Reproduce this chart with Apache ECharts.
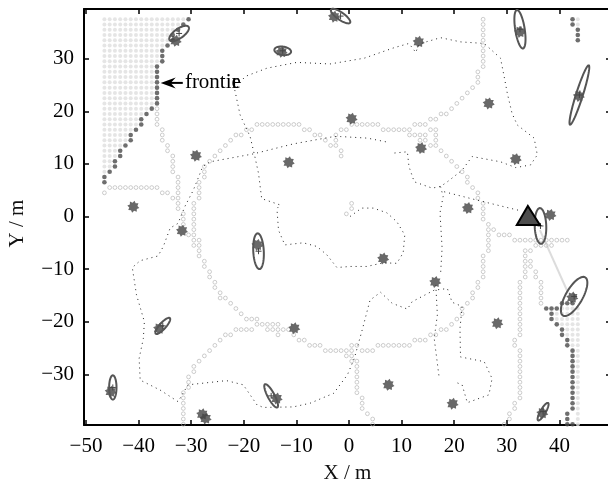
<!DOCTYPE html>
<html><head><meta charset="utf-8">
<style>html,body{margin:0;padding:0;background:#fff}#c{width:608px;height:483px}</style>
<script src="https://cdn.jsdelivr.net/npm/echarts@6/dist/echarts.min.js"></script>
</head><body><div id="c"></div>
<script>
const xTicks=[-50,-40,-30,-20,-10,0,10,20,30,40];
const yTicks=[-30,-20,-10,0,10,20,30];
const xName='X / m', yName='Y / m';

// landmarks
const landmarks=[[-32.95,33.4],[-29.1,11.56],[-41,1.86],[-12.8,31.3],[-11.46,10.3],[13.25,33.2],[0.5,18.6],[26.56,21.5],[13.7,13],[31.7,10.9],[22.6,1.6],[32.5,35.1],[43.7,22.9],[38.3,0.3],[-2.85,38],[-31.75,-2.7],[-17.4,-5.4],[-36.1,-21.3],[-10.4,-21.25],[-45.3,-33.3],[-13.75,-34.6],[-27.25,-38.4],[-27.9,-37.6],[6.5,-8],[16.4,-12.45],[28.2,-20.3],[7.5,-32],[19.7,-35.6],[42.45,-15.4],[36.75,-37.4]];
// uncertainty ellipses: cx, cy, semi-major, semi-minor, angle in degrees
const ellipses=[[-32.3,34.8,2.2,0.9,35],[-12.6,31.5,1.6,0.8,-8],[-1.6,38.1,2.2,0.7,-35],[32.5,35.6,3.7,0.9,99],[43.8,23.1,5.9,0.65,72.5],[36.4,-1.8,3.4,1.1,92],[-17.2,-6.6,3.4,1.0,93],[-35.4,-20.8,2.0,0.6,48],[-44.9,-32.5,2.3,0.7,90],[-14.8,-34.1,2.5,0.65,118],[42.8,-15.2,4.2,1.6,60],[36.9,-37.1,1.9,0.5,60]];
// frontier cells
const frontierTopX=[-30.5,-31.5,-32.5,-33.5,-33.5,-34.5,-35.5,-35.5,-35.5,-36.5,-36.5,-36.5,-36.5,-36.5,-36.5,-36.5,-36.5,-37.5,-38.5,-39.5,-39.5,-40.5,-41.5,-41.5,-42.5,-43.5,-43.5,-44.5,-44.5,-45.5,-46.5,-46.5];
const frontierTopY=[37.5,36.5,35.5,34.5,33.5,32.5,31.5,30.5,29.5,28.5,27.5,26.5,25.5,24.5,23.5,22.5,21.5,20.5,19.5,18.5,17.5,16.5,15.5,14.5,13.5,12.5,11.5,10.5,9.5,8.5,7.5,6.5];
const frontierOther=[[42.5,37.5],[42.5,36.5],[43.5,35.5],[43.5,34.5],[43.5,33.5],[40.5,-16.5],[41.5,-16.5],[42.5,-16.5],[37.5,-17.5],[38.5,-17.5],[39.5,-17.5],[38.5,-18.5],[38.5,-19.5],[39.5,-20.5],[40.5,-21.5],[40.5,-22.5],[41.5,-23.5],[41.5,-24.5],[42.5,-25.5],[42.5,-26.5],[42.5,-27.5],[42.5,-28.5],[42.5,-29.5],[42.5,-30.5],[42.5,-31.5],[42.5,-32.5],[42.5,-33.5],[42.5,-34.5],[42.5,-35.5],[42.5,-36.5],[41.5,-37.5],[41.5,-38.5],[41.5,-39.5],[42.5,-39.5]];
// unexplored cell rows: y, first x, last x
const unknownRows=[[37.5,-46.5,-31.5],[36.5,-46.5,-32.5],[35.5,-46.5,-33.5],[34.5,-46.5,-34.5],[33.5,-46.5,-34.5],[32.5,-46.5,-35.5],[31.5,-46.5,-36.5],[30.5,-46.5,-36.5],[29.5,-46.5,-36.5],[28.5,-46.5,-37.5],[27.5,-46.5,-37.5],[26.5,-46.5,-37.5],[25.5,-46.5,-37.5],[24.5,-46.5,-37.5],[23.5,-46.5,-37.5],[22.5,-46.5,-37.5],[21.5,-46.5,-37.5],[20.5,-46.5,-38.5],[19.5,-46.5,-39.5],[18.5,-46.5,-40.5],[17.5,-46.5,-40.5],[16.5,-46.5,-41.5],[15.5,-46.5,-42.5],[14.5,-46.5,-42.5],[13.5,-46.5,-43.5],[12.5,-46.5,-44.5],[11.5,-46.5,-44.5],[10.5,-46.5,-45.5],[9.5,-46.5,-45.5],[8.5,-46.5,-46.5],
[37.5,43.5,43.5],[36.5,43.5,43.5],[-17.5,40.5,43.5],[-18.5,39.5,43.5],[-19.5,39.5,43.5],[-20.5,40.5,43.5],[-21.5,41.5,43.5],[-22.5,41.5,43.5],[-23.5,42.5,43.5],[-24.5,42.5,43.5],[-25.5,43.5,43.5],[-26.5,43.5,43.5],[-27.5,43.5,43.5],[-28.5,43.5,43.5],[-29.5,43.5,43.5],[-30.5,43.5,43.5],[-31.5,43.5,43.5],[-32.5,43.5,43.5],[-33.5,43.5,43.5],[-34.5,43.5,43.5],[-35.5,43.5,43.5],[-36.5,43.5,43.5],[-37.5,43.5,43.5],[-38.5,43.5,43.5],[-39.5,43.5,43.5]];
// visited cells as rows: y, then x values
const visitedRows=[
[37.5,25.5],[36.5,25.5],[35.5,25.5],[34.5,25.5],[33.5,25.5],[32.5,25.5],[31.5,25.5],[30.5,25.5],[29.5,25.5],[28.5,25.5],
[27.5,24.5],[26.5,24.5],[25.5,24.5],[24.5,23.5],[23.5,22.5],[22.5,21.5],[21.5,20.5],
[20.5,-36.5,19.5],[19.5,-36.5,17.5,18.5],[18.5,-36.5,15.5,16.5],
[17.5,-36.5,-17.5,-16.5,-15.5,-14.5,-13.5,-12.5,-11.5,-10.5,-9.5,0.5,1.5,2.5,3.5,4.5,5.5,12.5,13.5,14.5],
[16.5,-35.5,-19.5,-18.5,-8.5,-7.5,-1.5,-0.5,6.5,7.5,8.5,9.5,10.5,11.5,15.5,16.5],
[15.5,-35.5,-21.5,-20.5,-6.5,-5.5,-2.5,11.5,12.5,13.5,14.5,16.5],
[14.5,-35.5,-22.5,-4.5,-2.5,13.5,14.5,16.5],
[13.5,-34.5,-23.5,-3.5,-2.5,15.5,16.5],
[12.5,-34.5,-24.5,-1.5,17.5],
[11.5,-33.5,-25.5,-1.5,18.5],
[10.5,-33.5,-26.5,19.5],
[9.5,-33.5,-27.5,20.5],
[8.5,-33.5,-27.5,21.5],
[7.5,-32.5,-27.5,22.5],
[6.5,-32.5,-28.5,22.5],
[5.5,-45.5,-44.5,-43.5,-42.5,-41.5,-40.5,-39.5,-38.5,-37.5,-36.5,-32.5,-28.5,23.5],
[4.5,-46.5,-35.5,-34.5,-32.5,-28.5,24.5],
[3.5,-33.5,-32.5,-28.5,24.5],
[2.5,-32.5,-29.5,0.5,25.5],
[1.5,-32.5,-29.5,0.5,25.5],
[0.5,-31.5,-29.5,-0.5,25.5],
[-0.5,-31.5,-29.5,25.5],
[-1.5,-31.5,-29.5,26.5],
[-2.5,-29.5,26.5,27.5],
[-3.5,-30.5,-29.5,26.5,28.5,29.5,30.5],
[-4.5,-29.5,-28.5,26.5,31.5,32.5,33.5,34.5,35.5,36.5,37.5,38.5,39.5,40.5,41.5],
[-5.5,-29.5,-28.5,26.5,35.5,36.5,37.5,38.5],
[-6.5,-28.5,26.5,33.5,34.5],
[-7.5,-28.5,25.5,33.5],
[-8.5,-27.5,25.5,33.5,34.5],
[-9.5,-27.5,25.5,33.5,34.5],
[-10.5,-26.5,25.5,33.5,35.5],
[-11.5,-26.5,25.5,33.5,35.5],
[-12.5,-25.5,24.5,32.5,36.5],
[-13.5,-25.5,24.5,32.5,36.5],
[-14.5,-24.5,23.5,32.5,36.5],
[-15.5,-24.5,-23.5,23.5,32.5,36.5],
[-16.5,-22.5,22.5,32.5,36.5],
[-17.5,-21.5,21.5,32.5],
[-18.5,-20.5,21.5,32.5],
[-19.5,-19.5,-18.5,-17.5,20.5,32.5],
[-20.5,-17.5,-16.5,-15.5,-14.5,-13.5,19.5,32.5],
[-21.5,-21.5,-20.5,-19.5,-18.5,-15.5,-14.5,-13.5,-12.5,-11.5,17.5,18.5,32.5],
[-22.5,-23.5,-22.5,-13.5,-10.5,15.5,16.5,32.5],
[-23.5,-24.5,-9.5,-8.5,12.5,13.5,14.5,31.5],
[-24.5,-25.5,-7.5,-6.5,-5.5,0.5,1.5,5.5,6.5,7.5,8.5,9.5,10.5,11.5,31.5],
[-25.5,-26.5,-4.5,-3.5,-2.5,-1.5,-0.5,0.5,2.5,3.5,4.5,32.5],
[-26.5,-27.5,-0.5,0.5,32.5],
[-27.5,-28.5,0.5,1.5,32.5],
[-28.5,-29.5,1.5,32.5],
[-29.5,-29.5,1.5,32.5],
[-30.5,-30.5,1.5,32.5],
[-31.5,-30.5,1.5,32.5],
[-32.5,-30.5,1.5,32.5],
[-33.5,-31.5,1.5,32.5],
[-34.5,-31.5,2.5,32.5],
[-35.5,-31.5,2.5,31.5],
[-36.5,-31.5,2.5,31.5],
[-37.5,-31.5,3.5,30.5],
[-38.5,-31.5,4.5,30.5],
[-39.5,-31.5,4.5,29.5]];
// robot trajectories
const pathA=[[.2,0],[2.4,1.6],[4.6,1.6],[7.2,.7],[9.1,-1],[10.6,-3.5],[10.3,-6.9],[9.1,-8.9],[6.5,-8.8],[3.4,-9.5],[.2,-9.5],[-2.3,-9.7],[-4.2,-7.3],[-6.1,-5.7],[-8.7,-5],[-12.2,-5.4],[-13.4,-2.6],[-13.7,1.5],[-13.1,2.2],[-16.6,3.4],[-17.2,8.2],[-17.9,11.4],[-18.8,15.2],[-20.7,19.3],[-21.7,24],[-19.8,26.6],[-15.6,28.2],[-9.9,29.3],[-3.6,29],[2.9,30.1],[8.6,32.1],[11.4,32.9],[12.7,31.2],[13.3,32.8],[17.4,34],[21.2,33.2],[25.7,32.9],[28.8,30.1],[29.5,26.6],[30.1,23.4],[31,19.6],[32,17.4],[35.2,14.9],[35.8,11.7],[34.5,9.8],[31.7,9.3],[28.8,10.4],[23.4,11.4],[21.5,8.8],[18.7,6.6],[17.4,5.7],[15.8,5.4],[12.4,6.6],[11.4,9.5],[11.1,12.3],[7.9,12]];
const pathB=[[7,14.2],[3.5,14.9],[-1.6,15.2],[-2.9,15.2],[-10.6,13.8],[-18.2,11.9],[-26.4,10.4],[-27.8,9.5],[-29.6,5],[-31.2,1.9],[-32.5,-1.3],[-34,-2.2],[-35.3,-5.7],[-36.3,-7.5],[-39.7,-8.4],[-41.2,-9.7],[-40.4,-14.9],[-38.9,-20],[-39.1,-23.2],[-39.9,-27],[-39.7,-31.1],[-35.9,-33],[-32.5,-35.2],[-30.6,-32],[-23.3,-31.2],[-20.1,-32],[-17.5,-35.8],[-16.3,-36.3],[-10.6,-36.2],[-7.4,-35.5],[-2.9,-33.6],[-.3,-30.1],[1,-27],[2.5,-21.6],[4,-15.9],[6,-14.4],[8.2,-16.5],[11.1,-17.6],[12,-16.2],[16.2,-14],[18.7,-13.7],[19.6,-16.3],[21.5,-17.1],[21.1,-21.3],[21.2,-26.7],[25.7,-27.6],[27.2,-30.8],[26.6,-33.9],[22.5,-35.4],[21.5,-32],[20,-31.4]];
const pathC=[[16.5,-13],[16.8,-18.7],[16.2,-23.2],[17.1,-30.3]];
const pathD=[[17.4,5.7],[17.9,3.8],[17.3,.7],[17.7,-6],[17.4,-11.1]];
const pathE=[[18.1,4.7],[24.4,3.1],[30.1,1.7],[32.6,1.1]];
// robot pose
const robot=[[34,2],[31.9,-1.6],[36.3,-1.6]];
const observation=[[36.3,-2.6],[41.6,-14.4]];
// annotation
const arrowTip=[-35.8,25.4], arrowTail=[-31.6,25.4];
const noteParts=[{text:'frontie',x:-31.2,y:25.5},{text:'r',x:-22.3,y:25.5}];

const SERIF='"Liberation Serif","Times New Roman",serif';
const expandRows=r=>{const o=[];r.forEach(([y,a,b])=>{for(let x=a;x<=b;x++)o.push([x,y]);});return o;};
const visited=[];visitedRows.forEach(r=>r.slice(1).forEach(x=>visited.push([x,r[0]])));
const frontier=frontierTopX.map((x,i)=>[x,frontierTopY[i]]).concat(frontierOther);
const fmt=v=>v<0?'\u2212'+(-v):String(v);
let p=[];for(let i=0;i<16;i++){const r=i%2?0.68:1,t=i*Math.PI/8+Math.PI/16;p.push((50+50*r*Math.cos(t)).toFixed(1)+' '+(50+50*r*Math.sin(t)).toFixed(1));}
const starPath='path://M'+p.join('L')+'Z';
const dotted=d=>({type:'line',data:d,showSymbol:false,silent:true,smooth:false,z:3,lineStyle:{color:'#222',width:1,type:[1,4]}});
const axisBase={axisLine:{onZero:false,lineStyle:{color:'#000',width:2}},splitLine:{show:false},axisTick:{inside:true,length:5,lineStyle:{color:'#000',width:1.5}}};
const chart=echarts.init(document.getElementById('c'));
chart.setOption({
 animation:false,backgroundColor:'#fff',
 grid:{left:84,right:-3,top:9,height:416,outerBoundsMode:'none'},
 xAxis:[
  {...axisBase,type:'value',position:'bottom',min:-50.38,max:49.81,name:xName,nameLocation:'middle',nameGap:38,nameTextStyle:{fontFamily:SERIF,fontSize:21,color:'#111',padding:[0,0,0,0]},
   axisTick:{...axisBase.axisTick,customValues:xTicks},axisLabel:{customValues:xTicks,formatter:fmt,fontFamily:SERIF,fontSize:21,color:'#000',margin:11}},
  {...axisBase,type:'value',position:'top',min:-50.38,max:49.81,axisTick:{...axisBase.axisTick,customValues:xTicks},axisLabel:{show:false}}],
 yAxis:[
  {...axisBase,type:'value',position:'left',min:-39.64,max:39.45,name:yName,nameLocation:'middle',nameGap:56,nameTextStyle:{fontFamily:SERIF,fontSize:21,color:'#111',padding:[0,13,0,0]},
   axisTick:{...axisBase.axisTick,customValues:yTicks},axisLabel:{customValues:yTicks,formatter:fmt,fontFamily:SERIF,fontSize:21,color:'#000',margin:10}},
  {...axisBase,type:'value',position:'right',min:-39.64,max:39.45,axisTick:{...axisBase.axisTick,customValues:yTicks},axisLabel:{show:false}}],
 series:[
  {type:'scatter',name:'unknown',data:expandRows(unknownRows),symbolSize:4,itemStyle:{color:'#dedede'},silent:true,z:1},
  {type:'scatter',name:'visited',data:visited,symbol:'circle',symbolSize:3.8,itemStyle:{color:'rgba(255,255,255,0)',borderColor:'#b0b0b0',borderWidth:0.8},silent:true,z:2},
  dotted(pathA),dotted(pathB),dotted(pathC),dotted(pathD),dotted(pathE),
  {type:'line',data:observation,showSymbol:false,silent:true,z:2,lineStyle:{color:'#dcdcdc',width:2}},
  {type:'scatter',name:'frontier',data:frontier,symbolSize:4.6,itemStyle:{color:'#4a4a4a'},silent:true,z:4},
  {type:'scatter',name:'landmarks',data:landmarks,symbol:starPath,symbolSize:12,itemStyle:{color:'#444'},silent:true,z:5},
  {type:'custom',name:'ellipses',data:ellipses,encode:{x:0,y:1},silent:true,z:6,renderItem:(ctx,api)=>{
    const cx=api.value(0),cy=api.value(1),a=api.value(2),b=api.value(3),ang=api.value(4)*Math.PI/180;
    const points=[];for(let k=0;k<60;k++){const t=k/60*2*Math.PI,u=a*Math.cos(t),v=b*Math.sin(t);
      points.push(api.coord([cx+u*Math.cos(ang)-v*Math.sin(ang),cy+u*Math.sin(ang)+v*Math.cos(ang)]));}
    const c=api.coord([cx,cy]);
    return {type:'group',children:[
      {type:'polygon',shape:{points},style:{fill:'none',stroke:'#555',lineWidth:2}},
      {type:'line',shape:{x1:c[0]-3,y1:c[1],x2:c[0]+3,y2:c[1]},style:{stroke:'#444',lineWidth:1}},
      {type:'line',shape:{x1:c[0],y1:c[1]-3,x2:c[0],y2:c[1]+3},style:{stroke:'#444',lineWidth:1}}]};
  }},
  {type:'custom',name:'robot',data:[0],encode:{x:-1,y:-1},silent:true,z:7,renderItem:(ctx,api)=>({type:'polygon',shape:{points:robot.map(q=>api.coord(q))},style:{fill:'#4d4d4d',stroke:'#000',lineWidth:2}})},
  {type:'custom',name:'note',data:[0],encode:{x:-1,y:-1},silent:true,z:8,renderItem:(ctx,api)=>{
    const tip=api.coord(arrowTip),tail=api.coord(arrowTail);
    const els=[{type:'line',shape:{x1:tip[0]+8,y1:tip[1],x2:tail[0],y2:tail[1]},style:{stroke:'#000',lineWidth:2}},
      {type:'polygon',shape:{points:[tip,[tip[0]+15,tip[1]-5.5],[tip[0]+10,tip[1]],[tip[0]+15,tip[1]+5.5]]},style:{fill:'#000'}}];
    noteParts.forEach(n=>{const q=api.coord([n.x,n.y]);els.push({type:'text',style:{text:n.text,x:q[0],y:q[1],font:'21px '+SERIF,fill:'#000',align:'left',verticalAlign:'middle'}});});
    return {type:'group',children:els};
  }}
 ]
});
</script></body></html>
